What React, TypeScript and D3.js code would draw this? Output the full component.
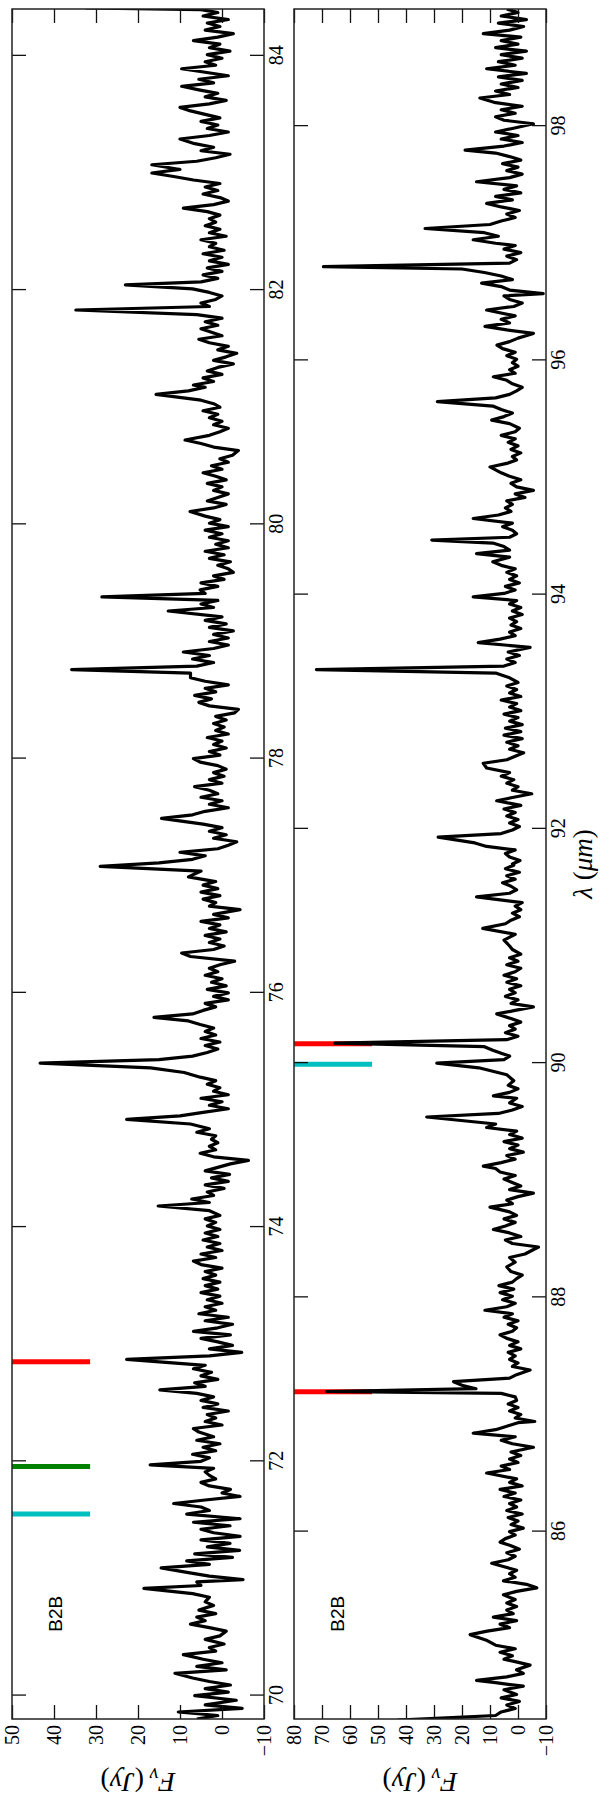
import React, { useEffect, useRef } from "react";
import * as d3 from "d3";

const WIDTH = 600;
const HEIGHT = 1800;

// figure is laid out landscape (1800 x 600) and then turned a quarter turn
const LAND = { LEFT: 81, RIGHT: 1791 };
const BOX_A = { TOP: 12, BOTTOM: 264 };
const BOX_B = { TOP: 294, BOTTOM: 546 };
const TICK = 14;

const COLORS: Record<string, string> = { r: "#ff0000", g: "#008000", c: "#00bfbf" };

// ---- data ----
const lamDomainA = [69.8, 84.4];
const lamDomainB = [84.4, 99.0];
const fluxDomainA = [-10, 50];
const fluxDomainB = [-10, 80];
const lamTicksA = [70, 72, 74, 76, 78, 80, 82, 84];
const lamTicksB = [86, 88, 90, 92, 94, 96, 98];
const fluxTicksA = [-10, 0, 10, 20, 30, 40, 50];
const fluxTicksB = [-10, 0, 10, 20, 30, 40, 50, 60, 70, 80];

const markLamA = [71.55, 71.955, 72.85];
const markKindA = ["c", "g", "r"];
const markLamB = [87.195, 89.99, 90.165];
const markKindB = ["r", "c", "r"];

const label = "B2B";

// [wavelength (um), flux (Jy)]
const specA: [number, number][] = [
  [69.8, 6], [69.83, 1], [69.86, 10.4], [69.89, -4.8], [69.92, 4], [69.96, -3.4], [70.0, 6.5], [70.03, -1.5],
  [70.06, 4], [70.09, -2], [70.12, 3], [70.15, 7], [70.19, 11.2], [70.22, -1], [70.25, 6], [70.28, 0],
  [70.31, 4.5], [70.35, 9.2], [70.38, 1.5], [70.41, 3], [70.44, -0.5], [70.48, 4], [70.51, 0.5], [70.55, -1],
  [70.58, 3], [70.61, 7.5], [70.64, 4], [70.67, 6], [70.7, 1.5], [70.73, 5.5], [70.77, 2], [70.8, 4],
  [70.84, 3], [70.87, 7], [70.915, 18.6], [70.94, 5], [70.97, 6], [70.99, -5], [71.02, 3], [71.05, 8],
  [71.09, 14.5], [71.12, 3], [71.15, 8.4], [71.18, -2.5], [71.21, 6.5], [71.24, -4.2], [71.27, 3.5], [71.3, -1.9],
  [71.33, 5], [71.36, -4.3], [71.39, 2], [71.42, 5], [71.45, -1.9], [71.48, 6.8], [71.51, -4.3], [71.55, 8.4],
  [71.58, 3], [71.61, 5], [71.64, 11.5], [71.67, 4], [71.7, -4.3], [71.73, 0], [71.76, -2], [71.79, 3],
  [71.82, 5], [71.85, 1.5], [71.88, 3], [71.91, 4], [71.94, 2], [71.97, 17.1], [72.0, 5], [72.03, 3],
  [72.06, 7], [72.09, 1.5], [72.12, 4.5], [72.15, 0.5], [72.18, 6], [72.21, 2], [72.25, 5.5], [72.28, 6.8],
  [72.31, 0], [72.34, 4], [72.37, 1.5], [72.4, 3.5], [72.43, -1.5], [72.46, 4.5], [72.49, 1], [72.52, 5],
  [72.55, 2], [72.58, 6], [72.61, 14.8], [72.64, 4], [72.67, 6.5], [72.7, 1], [72.73, 5], [72.76, 2.5],
  [72.79, 6.8], [72.82, 4], [72.87, 22.7], [72.9, 3], [72.93, -4.7], [72.96, 3], [72.99, -2.5], [73.02, 1],
  [73.05, 5], [73.08, -2], [73.11, 6.8], [73.14, 1], [73.17, -2.5], [73.2, 4], [73.23, -1.5], [73.26, 5.5],
  [73.29, 1.5], [73.32, 4], [73.35, 0], [73.38, 3.5], [73.41, 0.5], [73.44, 5], [73.47, 1], [73.5, 4],
  [73.53, 0.5], [73.56, 4.5], [73.59, 1.5], [73.62, 4], [73.65, 0], [73.68, 5], [73.71, 6.8], [73.74, 1.5],
  [73.77, 5], [73.8, 0], [73.83, 3.5], [73.86, 0.5], [73.89, 4.5], [73.92, 1], [73.95, 4], [73.98, 0.5],
  [74.01, 3.5], [74.04, 1.5], [74.07, 4], [74.1, 0.5], [74.14, 3], [74.18, 15.2], [74.21, 3], [74.24, 7.2],
  [74.27, 2], [74.3, 3.5], [74.33, -0.5], [74.36, 4], [74.39, -1.5], [74.42, 2.5], [74.45, -1.8], [74.48, 4],
  [74.51, 1], [74.54, -2], [74.57, -6.3], [74.6, 2], [74.63, 5.2], [74.66, 1.5], [74.69, 3], [74.72, 1],
  [74.75, 2.5], [74.78, 1.5], [74.81, 6], [74.84, 3], [74.88, 7.5], [74.92, 22.7], [74.95, 10], [74.98, 4.5],
  [75.01, -1.5], [75.04, 3], [75.07, 0], [75.1, 5], [75.13, -1.5], [75.16, 2], [75.19, 0.5], [75.22, 3.5],
  [75.25, 1.5], [75.28, 5.2], [75.32, 9], [75.36, 17], [75.4, 43.3], [75.43, 15], [75.46, 7], [75.49, 3.5],
  [75.52, 1], [75.55, 4], [75.58, 0.5], [75.61, 5], [75.64, 1.5], [75.67, 4], [75.7, 2], [75.73, 5.2],
  [75.76, 8], [75.79, 16.2], [75.82, 7], [75.85, 4.5], [75.88, 1.5], [75.91, 4], [75.94, -1.5], [75.97, 2],
  [76.0, -1.5], [76.03, 3.5], [76.06, -1], [76.09, 2.5], [76.12, 0], [76.15, 4], [76.18, 1], [76.21, 3],
  [76.24, 0.5], [76.27, -3], [76.31, 7.5], [76.34, 9.6], [76.37, 2], [76.4, -0.5], [76.43, 3], [76.46, 0.5],
  [76.49, 4], [76.52, -1], [76.55, 3], [76.58, 0.5], [76.61, 5], [76.64, -1.5], [76.67, 2], [76.71, -4.3],
  [76.74, 3], [76.77, 1.5], [76.8, 4.5], [76.83, 0.5], [76.86, 5], [76.89, 1], [76.92, 4.5], [76.95, 1.5],
  [76.99, 8], [77.04, 5], [77.08, 29], [77.11, 15], [77.14, 7], [77.17, 4], [77.2, 10], [77.23, 1],
  [77.26, -1.5], [77.29, -3.5], [77.32, 2], [77.35, -1], [77.38, 3], [77.41, 0], [77.44, 4.5], [77.49, 14.4],
  [77.52, 7], [77.55, 4], [77.58, -1.5], [77.61, 3], [77.64, 0], [77.67, 5], [77.7, 1], [77.73, 3],
  [77.76, 6.5], [77.79, 0], [77.82, 3], [77.85, -0.5], [77.88, 2], [77.91, -1], [77.94, 1], [77.97, 5.2],
  [78.0, 6.8], [78.03, 0.5], [78.06, 3], [78.09, -1], [78.12, 2], [78.15, 0], [78.18, 3.5], [78.21, -1.5],
  [78.24, 1.5], [78.27, -0.5], [78.3, 2], [78.33, -1], [78.36, 1.5], [78.39, -3], [78.42, -3.9], [78.45, 3],
  [78.48, 5.5], [78.51, 2.5], [78.54, 6.5], [78.57, 1.5], [78.6, 4], [78.63, -1.5], [78.66, 4], [78.69, 7.5],
  [78.73, 7.5], [78.76, 35.8], [78.79, 6], [78.82, 2], [78.85, 7], [78.88, 3], [78.91, 9.2], [78.94, 2],
  [78.97, -1.5], [79.0, 3], [79.03, -1.5], [79.06, 2], [79.09, -2.7], [79.12, 3], [79.15, -1], [79.18, 4],
  [79.21, 0], [79.26, 12.8], [79.29, 2], [79.32, 5], [79.35, 1], [79.38, 28.6], [79.41, 4], [79.44, 5.2],
  [79.47, 1], [79.5, 5], [79.53, -0.5], [79.56, 2], [79.59, -2.7], [79.62, -1.5], [79.65, 1], [79.68, -2],
  [79.71, 3], [79.74, -0.5], [79.77, 4], [79.8, -1.5], [79.83, 1.5], [79.86, -1.5], [79.89, 3], [79.92, 0],
  [79.95, 4], [79.98, -1.5], [80.01, 3], [80.04, 0.5], [80.07, 4], [80.11, 7.6], [80.14, 2], [80.17, -1],
  [80.2, 3.5], [80.23, 1], [80.26, -1.5], [80.29, 2], [80.32, 0], [80.35, 3.5], [80.38, -1], [80.41, 1.5],
  [80.44, 4.5], [80.47, 0], [80.5, 2.5], [80.53, -1.5], [80.56, 0.5], [80.59, -2.5], [80.63, -3.9], [80.66, 2],
  [80.69, 5], [80.72, 8.8], [80.76, 3], [80.79, 0.5], [80.82, -1.5], [80.85, 2], [80.88, 0], [80.91, 3],
  [80.94, 1], [80.97, 4.5], [81.0, 0.5], [81.03, 2], [81.06, 5], [81.11, 15.7], [81.14, 8], [81.17, 4],
  [81.19, 6.8], [81.22, 2], [81.25, 4.5], [81.28, 0], [81.31, 3.5], [81.34, 1], [81.37, -2.7], [81.4, 2],
  [81.43, -1], [81.46, -3.5], [81.49, 1], [81.52, -1.5], [81.55, 3], [81.58, 5.5], [81.61, 0], [81.64, 2.5],
  [81.67, 5], [81.7, 1], [81.73, 4], [81.76, 0], [81.79, 6], [81.83, 34.8], [81.86, 3], [81.89, 5],
  [81.92, 1.5], [81.95, 0], [81.98, 3], [82.01, 7], [82.045, 23], [82.07, 5], [82.1, 1], [82.13, 4.5],
  [82.16, 0], [82.19, 3.5], [82.22, -1.5], [82.25, 3], [82.28, 0], [82.31, 4.5], [82.34, -0.5], [82.37, 3],
  [82.4, 1.5], [82.43, 5], [82.46, -1], [82.49, 3], [82.52, 0.5], [82.55, 4], [82.58, 1.5], [82.61, 3],
  [82.64, 0.5], [82.67, 3.5], [82.7, 9.2], [82.73, 2], [82.76, -1.5], [82.79, 0.5], [82.82, 4.5], [82.85, 1],
  [82.88, 4], [82.91, 0.5], [82.94, 6.8], [82.97, 11.5], [83.0, 16.7], [83.03, 10], [83.07, 16.7], [83.1, 6],
  [83.13, 1.5], [83.16, -1.9], [83.19, 5], [83.22, 2], [83.25, 6.5], [83.29, 10], [83.32, 3], [83.35, -1.5],
  [83.38, 3.5], [83.41, 1], [83.44, 5], [83.47, 0.5], [83.5, 4], [83.53, 7.5], [83.56, 10], [83.59, 3],
  [83.62, -1], [83.65, 4], [83.68, 1], [83.71, 5.5], [83.74, 9.6], [83.77, 2], [83.8, 5.5], [83.83, -1.5],
  [83.86, 4], [83.89, 9.6], [83.92, 1.5], [83.95, 4], [83.98, 0], [84.01, 3.5], [84.04, -1.9], [84.07, 3],
  [84.1, 0.5], [84.13, 6.8], [84.16, 1], [84.19, -2.7], [84.22, 4], [84.25, 0.5], [84.28, 3.5], [84.31, -1.5],
  [84.34, 4.5], [84.37, 1], [84.395, 5], [84.41, 32.5],
];

const specB: [number, number][] = [
  [84.39, 43], [84.43, 8], [84.46, 6], [84.49, 1], [84.52, 4], [84.55, -0.5], [84.58, 6], [84.61, 0.5],
  [84.65, 5], [84.68, -1.9], [84.71, 8], [84.73, 14.8], [84.76, 4], [84.79, -1.9], [84.82, 0.5], [84.86, -4.3],
  [84.89, 1], [84.91, 5], [84.94, 2], [84.97, 6.4], [85.0, 1], [85.03, 8], [85.07, 11], [85.12, 17.1],
  [85.15, 11], [85.18, 3], [85.21, 6.4], [85.24, 0.5], [85.27, 8.8], [85.3, 1.7], [85.33, 4], [85.36, 0.5],
  [85.39, 4], [85.42, 1], [85.46, 5.2], [85.49, 0.5], [85.52, -6.7], [85.55, -3], [85.58, 5.2], [85.61, 1],
  [85.64, 3], [85.67, 0.5], [85.73, 9.4], [85.76, 3.5], [85.79, 1], [85.82, 4], [85.85, -0.5], [85.88, 2.5],
  [85.91, 6.4], [85.94, 4.5], [85.97, 1], [86.0, 3], [86.03, -1.9], [86.06, 2.5], [86.09, 0], [86.12, 3.5],
  [86.15, -1.5], [86.18, 4], [86.21, 0.5], [86.24, 3], [86.27, -1], [86.3, 5], [86.33, 1], [86.36, 6.4],
  [86.39, -1.5], [86.42, 3], [86.45, 0.5], [86.5, 11.2], [86.53, 3], [86.56, 6], [86.59, 0], [86.62, 3],
  [86.65, -1], [86.68, 2.5], [86.72, -5.5], [86.75, 2], [86.78, 6], [86.81, 1], [86.84, 16], [86.87, 8],
  [86.9, 4], [86.93, 0], [86.94, -6], [86.97, 1], [87.0, -1], [87.03, 3], [87.06, 0], [87.09, 3.5],
  [87.12, 0.5], [87.15, 1], [87.18, 6], [87.196, 68.3], [87.22, 15], [87.25, 20], [87.28, 23], [87.31, 3],
  [87.34, 0.5], [87.38, -4.3], [87.41, 2], [87.44, 0], [87.47, 3], [87.5, 1], [87.53, 3.5], [87.56, -1],
  [87.59, 3], [87.62, 0], [87.65, 4], [87.68, 6.4], [87.71, 2], [87.74, 0.5], [87.77, 3.5], [87.8, 0],
  [87.83, 5], [87.86, 2], [87.89, 11.8], [87.92, 4], [87.95, 1], [87.98, 5.5], [88.01, 2], [88.04, 6.4],
  [88.07, 1.5], [88.1, 6.8], [88.13, 2], [88.16, 0.5], [88.19, -1.5], [88.22, 2.5], [88.26, 4], [88.3, 1],
  [88.34, 3], [88.37, -2.5], [88.43, -7.3], [88.46, 2], [88.49, 4.5], [88.52, -1], [88.55, 3], [88.58, 8.8],
  [88.61, 4.5], [88.64, 1], [88.67, 5], [88.7, 0.5], [88.73, 3], [88.77, 10], [88.8, 2], [88.83, 4],
  [88.86, 0], [88.89, -5.5], [88.92, 3], [88.95, -1], [89.01, 5], [89.04, 1], [89.07, 6.4], [89.1, 8],
  [89.12, 12.4], [89.15, 6], [89.18, 1], [89.21, 4], [89.24, -1.9], [89.27, 3], [89.3, 0], [89.33, 5],
  [89.36, -1.5], [89.39, 3], [89.42, 0.5], [89.45, 11.2], [89.48, 8], [89.54, 32.6], [89.57, 7], [89.6, 2],
  [89.63, -1.5], [89.66, 3], [89.7, 0.5], [89.72, 8.8], [89.75, 3], [89.78, 0], [89.81, 3.5], [89.85, 1.5],
  [89.9, 4], [89.96, 14], [90.0, 29], [90.03, 5], [90.06, 3], [90.08, 5.5], [90.11, 9], [90.14, 12],
  [90.17, 65.4], [90.2, 4], [90.23, 0], [90.26, 4.5], [90.29, 1], [90.32, 3], [90.35, -1], [90.38, 2.5],
  [90.42, 7.6], [90.45, 1], [90.48, -5.5], [90.51, 2.5], [90.54, 0], [90.57, 4.5], [90.6, 1], [90.63, 3],
  [90.66, -1], [90.69, 4], [90.72, 0.5], [90.75, 5], [90.78, 1], [90.81, -1], [90.84, 4], [90.87, 0],
  [90.9, 3], [90.93, -1], [90.97, 2], [91.0, 3], [91.05, 5], [91.1, 1], [91.15, 12.6], [91.19, 4.5],
  [91.22, 2.5], [91.25, -0.5], [91.28, 2], [91.31, -1], [91.34, 1], [91.37, -1.5], [91.42, 14.8], [91.45, 3],
  [91.48, 0.5], [91.51, 2.5], [91.54, 5.5], [91.57, 1], [91.6, 4], [91.63, -0.5], [91.66, 4.5], [91.69, 1.5],
  [91.7, 2], [91.73, -0.7], [91.76, 3], [91.79, 4.5], [91.82, 1], [91.85, 11.2], [91.88, 15.4], [91.93, 28.5],
  [91.96, 6], [91.99, 2], [92.02, -0.5], [92.05, 3], [92.08, 0], [92.11, 4], [92.14, 1], [92.17, 5],
  [92.2, -1], [92.24, 7.6], [92.27, 1.5], [92.3, -4.9], [92.33, 2], [92.36, 0], [92.39, 4], [92.42, 1.5],
  [92.45, 6], [92.48, 3], [92.52, 11.2], [92.56, 12.4], [92.59, 4], [92.62, 1], [92.65, -2], [92.68, 3],
  [92.71, 0], [92.74, 4], [92.77, -1.5], [92.8, 5], [92.83, -1], [92.86, 4.5], [92.89, -1.5], [92.92, 3],
  [92.95, 0], [92.98, 5], [93.01, -1], [93.04, 3], [93.07, 0.5], [93.1, 6], [93.13, -1], [93.16, 3],
  [93.19, 0.5], [93.22, 4], [93.25, 0], [93.29, 3], [93.33, 8], [93.36, 72], [93.39, 5], [93.42, 1],
  [93.45, 4], [93.48, -0.5], [93.51, 3.5], [93.55, -4.3], [93.59, 14.2], [93.62, 6.4], [93.65, 1], [93.68, 3],
  [93.71, -1], [93.74, 2.5], [93.77, 0.5], [93.8, 3], [93.83, -1.5], [93.86, 2], [93.89, -1], [93.92, 3],
  [93.95, 0.5], [93.98, 16], [94.01, 5], [94.04, 1], [94.07, 4.5], [94.1, -0.5], [94.13, 3], [94.16, 0.5],
  [94.19, 4], [94.22, 1], [94.25, 6], [94.28, 9], [94.32, 3], [94.35, 14.8], [94.38, 3], [94.41, 5],
  [94.44, 9], [94.466, 30.8], [94.49, 3], [94.52, 0.5], [94.55, 2], [94.58, 5.5], [94.61, 2], [94.65, 16],
  [94.68, 7], [94.71, 2.5], [94.74, 4.5], [94.77, 2], [94.8, 4], [94.83, -2.5], [94.86, 1], [94.89, -5.5],
  [94.92, 0.5], [94.95, 2.5], [94.98, -1], [95.01, 3], [95.04, 6], [95.09, 10], [95.12, 4], [95.15, 0.5],
  [95.18, 2], [95.21, -1], [95.24, 2.5], [95.27, 0], [95.3, 3.5], [95.33, 1], [95.36, 6], [95.39, 1],
  [95.42, -0.5], [95.46, 3], [95.49, 9.4], [95.52, 5], [95.55, 2], [95.58, 6], [95.61, 9], [95.647, 28.8],
  [95.68, 8], [95.71, 3], [95.74, 0.5], [95.77, -1.5], [95.8, 2], [95.83, 4], [95.86, 8.8], [95.89, 1],
  [95.92, 3], [95.95, 0], [95.98, 2], [96.01, 0.5], [96.04, 4], [96.07, 1], [96.1, 5.5], [96.13, 7.5],
  [96.16, 3], [96.19, 0], [96.23, -5.5], [96.26, 4], [96.29, 11.8], [96.32, 3], [96.35, 6], [96.38, 1],
  [96.43, 11.2], [96.46, 1.5], [96.49, -1.5], [96.52, 3], [96.55, 5], [96.57, -9], [96.6, 3], [96.63, 6],
  [96.66, 13], [96.69, 2], [96.72, 6], [96.75, 12], [96.78, 20], [96.8, 69.5], [96.83, 3], [96.86, 0.5],
  [96.89, 4], [96.92, -1], [96.95, 5], [96.98, 1], [97.0, 8], [97.03, 16], [97.06, 7], [97.09, 12],
  [97.126, 33.2], [97.16, 10], [97.19, 6], [97.22, 1], [97.25, 4], [97.28, -0.5], [97.31, 6], [97.34, 11.2],
  [97.37, 2], [97.4, 8], [97.43, -1], [97.46, 5], [97.49, 0.5], [97.525, 14.8], [97.56, 3], [97.59, -1.5],
  [97.62, 4], [97.65, 0], [97.68, 5.5], [97.71, -1], [97.74, 3], [97.77, 8], [97.795, 18.9], [97.83, 5],
  [97.86, -1.5], [97.89, 6], [97.92, 0], [97.95, 8], [97.98, 2], [98.02, -5.5], [98.05, 5], [98.08, 8],
  [98.11, 1], [98.14, 6], [98.17, -1.5], [98.2, 8], [98.24, 13.6], [98.27, 3], [98.3, 8], [98.33, 0],
  [98.36, 6], [98.39, -1.5], [98.42, 7], [98.45, -3], [98.49, 11.2], [98.52, 1], [98.55, 7], [98.58, -1.5],
  [98.61, 6], [98.64, -3], [98.67, 8], [98.7, 0], [98.73, 6], [98.76, -1], [98.79, 12.4], [98.82, 3],
  [98.85, -2], [98.88, 7], [98.91, -3], [98.94, 6], [98.97, 0], [99.0, 4],
];

const fmt = (d: number) => (d < 0 ? `\u2212${Math.abs(d)}` : String(d));
const SERIF = "'Liberation Serif', 'DejaVu Serif', serif";

function drawPanel(
  root: d3.Selection<SVGGElement, unknown, null, undefined>,
  id: string,
  spec: [number, number][],
  lamDomain: number[],
  fluxDomain: number[],
  lamTicks: number[],
  fluxTicks: number[],
  markLam: number[],
  markKind: string[],
  box: { TOP: number; BOTTOM: number }
) {
  const x = d3.scaleLinear().domain(lamDomain).range([LAND.LEFT, LAND.RIGHT]);
  const y = d3.scaleLinear().domain(fluxDomain).range([box.BOTTOM, box.TOP]);

  root
    .append("clipPath")
    .attr("id", id)
    .append("rect")
    .attr("x", LAND.LEFT)
    .attr("y", box.TOP)
    .attr("width", LAND.RIGHT - LAND.LEFT)
    .attr("height", box.BOTTOM - box.TOP);

  const body = root.append("g").attr("clip-path", `url(#${id})`);

  // species markers hang from the top of the frame
  body
    .selectAll("line.mark")
    .data(markLam)
    .join("line")
    .attr("class", "mark")
    .attr("x1", (d) => x(d))
    .attr("x2", (d) => x(d))
    .attr("y1", box.TOP)
    .attr("y2", box.TOP + 0.31 * (box.BOTTOM - box.TOP))
    .attr("stroke", (d, i) => COLORS[markKind[i]])
    .attr("stroke-width", 5);

  const line = d3
    .line<[number, number]>()
    .x((d) => x(d[0]))
    .y((d) => y(d[1]));

  body
    .append("path")
    .datum(spec)
    .attr("d", line)
    .attr("fill", "none")
    .attr("stroke", "#000")
    .attr("stroke-width", 3.2)
    .attr("stroke-linejoin", "round");

  // axes: inward ticks on all four sides
  const bottom = root
    .append("g")
    .attr("transform", `translate(0,${box.BOTTOM})`)
    .call(d3.axisBottom(x).tickValues(lamTicks).tickSizeInner(-TICK).tickSizeOuter(0).tickPadding(5).tickFormat((d) => fmt(+d)));
  root
    .append("g")
    .attr("transform", `translate(0,${box.TOP})`)
    .call(d3.axisTop(x).tickValues(lamTicks).tickSizeInner(-TICK).tickSizeOuter(0).tickFormat(() => ""));
  const left = root
    .append("g")
    .attr("transform", `translate(${LAND.LEFT},0)`)
    .call(d3.axisLeft(y).tickValues(fluxTicks).tickSizeInner(-TICK).tickSizeOuter(0).tickPadding(6).tickFormat((d) => fmt(+d)));
  root
    .append("g")
    .attr("transform", `translate(${LAND.RIGHT},0)`)
    .call(d3.axisRight(y).tickValues(fluxTicks).tickSizeInner(-TICK).tickSizeOuter(0).tickFormat(() => ""));

  root.selectAll(".domain").remove();
  root.selectAll(".tick line").attr("stroke", "#111").attr("stroke-width", 1.3);
  [bottom, left].forEach((a) =>
    a.selectAll("text").attr("font-family", SERIF).attr("font-size", 20).attr("fill", "#000")
  );

  root
    .append("rect")
    .attr("x", LAND.LEFT)
    .attr("y", box.TOP)
    .attr("width", LAND.RIGHT - LAND.LEFT)
    .attr("height", box.BOTTOM - box.TOP)
    .attr("fill", "none")
    .attr("stroke", "#222")
    .attr("stroke-width", 1.5);

  // B2B tag
  root
    .append("text")
    .attr("x", x(lamDomain[0] + 0.051 * (lamDomain[1] - lamDomain[0])))
    .attr("y", y(fluxDomain[0] + 0.8 * (fluxDomain[1] - fluxDomain[0])))
    .attr("font-family", "'Liberation Sans', Arial, sans-serif")
    .attr("font-size", 19)
    .text(label);

  // y label, F_nu (Jy)
  const yl = root
    .append("text")
    .attr("transform", `translate(27,${(box.TOP + box.BOTTOM) / 2}) rotate(-90)`)
    .attr("text-anchor", "middle")
    .attr("font-family", SERIF)
    .attr("font-size", 28);
  yl.append("tspan").attr("font-style", "italic").text("F");
  yl.append("tspan").attr("font-style", "italic").attr("font-size", 20).attr("dy", 5).text("\u03bd");
  yl.append("tspan").attr("dy", -5).text("\u2009(");
  yl.append("tspan").attr("font-style", "italic").text("Jy");
  yl.append("tspan").text(")");
}

export default function App() {
  const ref = useRef<SVGSVGElement>(null);

  useEffect(() => {
    const svg = d3.select(ref.current);
    svg.selectAll("*").remove();
    svg.append("rect").attr("width", WIDTH).attr("height", HEIGHT).attr("fill", "#fff");

    const g = svg.append("g").attr("transform", `translate(0,${HEIGHT}) rotate(-90)`);

    drawPanel(g, "clipA", specA, lamDomainA, fluxDomainA, lamTicksA, fluxTicksA, markLamA, markKindA, BOX_A);
    drawPanel(g, "clipB", specB, lamDomainB, fluxDomainB, lamTicksB, fluxTicksB, markLamB, markKindB, BOX_B);

    // x label, lambda (um)
    const xl = g
      .append("text")
      .attr("x", (LAND.LEFT + LAND.RIGHT) / 2)
      .attr("y", 592)
      .attr("text-anchor", "middle")
      .attr("font-family", SERIF)
      .attr("font-size", 27);
    xl.append("tspan").attr("font-style", "italic").text("\u03bb");
    xl.append("tspan").text(" (");
    xl.append("tspan").attr("font-style", "italic").text("\u03bcm");
    xl.append("tspan").text(")");
  }, []);

  return (
    <svg
      ref={ref}
      width={WIDTH}
      height={HEIGHT}
      style={{ position: "absolute", left: 0, top: 0, display: "block" }}
    />
  );
}
